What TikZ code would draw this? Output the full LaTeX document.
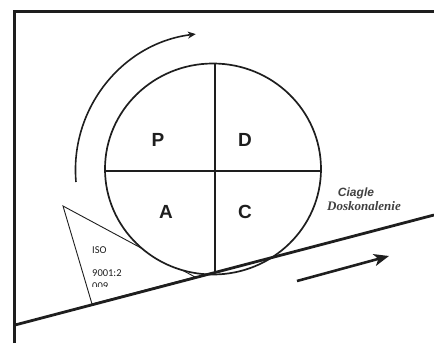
\documentclass[tikz,border=0pt]{standalone}
\usepackage{fontspec}
\setmainfont{Liberation Serif}
\setsansfont{Liberation Sans}
\newfontfamily\isofont{Carlito}
\usetikzlibrary{arrows.meta}
\definecolor{ink}{HTML}{1E1E1E}
\tikzset{
  letter/.style={font=\fontsize{19}{20}\selectfont\sffamily\bfseries,text=ink,inner sep=0pt},
  isotext/.style={font=\fontsize{10.5}{12}\selectfont\isofont,text=ink,inner sep=0pt,anchor=base west},
}

\begin{document}
\begin{tikzpicture}[x=1pt,y=-1pt]
\useasboundingbox (0,0) rectangle (434,343);
% frame
\draw[ink,line width=3pt] (14,343) -- (14,11) -- (434,11);
% wedge under the wheel
\draw[ink,line width=0.9pt,line join=miter] (63,206) -- (92,304) -- (195,277) -- cycle;
\node[isotext] (iso) at (92,253) {ISO};
\node[isotext] (norm) at (92,276) {9001:2};
\begin{scope}
\clip (80,278) rectangle (140,286.5);
\node[isotext] (year) at (92,289) {009};
\end{scope}
% wheel
\draw[ink,line width=1.7pt,fill=white] (213,169) ellipse [x radius=108,y radius=105.5];
\coordinate (top) at (215,63);
\coordinate (bot) at (215,273);
\coordinate (lft) at (105,171);
\coordinate (rgt) at (321,171);
\draw[ink,line width=1.6pt] (top) -- (bot);
\draw[ink,line width=1.6pt] (lft) -- (rgt);
\node[letter] (P) at (158,140) {P};
\node[letter] (D) at (245,140) {D};
\node[letter] (A) at (166,212) {A};
\node[letter] (C) at (245,212) {C};
% slope
\draw[ink,line width=2.8pt] (15,325) -- (434,215);
% rotation arrow
\draw[ink,line width=1.6pt,-{Stealth[length=8pt,width=7pt]}] (76,182) arc[start angle=175,end angle=263,radius=137];
% forward arrow
\coordinate (fwd0) at (297,281);
\coordinate (fwd1) at (389,256);
\draw[ink,line width=2.6pt,-{Stealth[length=15pt,width=12pt,inset=4pt]}] (fwd0) -- (fwd1);
% caption
\node[font=\fontsize{12}{13}\selectfont\sffamily\bfseries\itshape,text=ink!85,inner sep=0pt,anchor=base] (ciagle) at (356,196) {Ciagle};
\node[font=\fontsize{13}{14}\selectfont\bfseries\itshape,text=ink!85,inner sep=0pt,anchor=base] (dosk) at (364,210) {Doskonalenie};
\end{tikzpicture}
\end{document}
